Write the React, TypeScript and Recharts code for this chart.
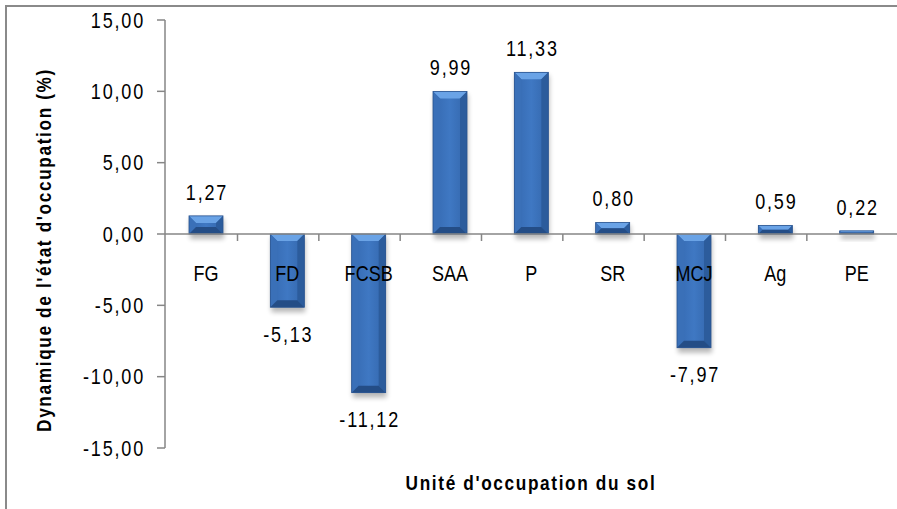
import { BarChart, Bar, XAxis, YAxis, ReferenceLine, LabelList } from "recharts";

// land-cover units and their change (%)
const categories = ["FG", "FD", "FCSB", "SAA", "P", "SR", "MCJ", "Ag", "PE"];
const values = [1.27, -5.13, -11.12, 9.99, 11.33, 0.8, -7.97, 0.59, 0.22];
const yTicks = [-15, -10, -5, 0, 5, 10, 15];

const data = categories.map((c, i) => ({ category: c, value: values[i] }));

const W = 897;
const H = 509;
const AXIS_W = 165;
const FONT = '"Liberation Sans", Arial, sans-serif';
const GRAY = "#868686";
const SX = 0.82; // squeeze Arial-like glyphs to a narrow look

const fmt = (v: number) => v.toFixed(2).replace(".", ",");

// label props may come flat or inside viewBox
function box(p: any) {
  const vb = p.viewBox && typeof p.viewBox.x === "number" ? p.viewBox : p;
  const x = Number(vb.x), y = Number(vb.y), w = Number(vb.width), h = Number(vb.height);
  return { x, w, top: Math.min(y, y + h), bottom: Math.max(y, y + h) };
}

// narrow text drawn at (x, y)
function NText({ x, y, anchor, spacing = 0, children }: any) {
  return (
    <text transform={`translate(${x},${y}) scale(${SX},1)`} x={0} y={0} textAnchor={anchor}
      dominantBaseline="central" fontSize={22} fontFamily={FONT} letterSpacing={spacing} fill="#000">
      {children}
    </text>
  );
}

function BevelBar(p: any) {
  const x = p.x, w = p.width;
  const y0 = Math.min(p.y, p.y + p.height);
  const y1 = Math.max(p.y, p.y + p.height);
  const h = y1 - y0;
  if (!(h > 0)) return null;
  const b = Math.min(7, h / 2, w / 2);
  const id = `bv-${p.index}`;
  return (
    <g>
      <defs>
        <filter id={`${id}-sh`} x="-50%" y="-50%" width="200%" height="200%">
          <feGaussianBlur stdDeviation="2.5" />
        </filter>
        <linearGradient id={`${id}-front`} x1="0" y1="0" x2="1" y2="0">
          <stop offset="0%" stopColor="#3569b0" />
          <stop offset="50%" stopColor="#3f78c3" />
          <stop offset="100%" stopColor="#3366ab" />
        </linearGradient>
      </defs>
      <rect x={x + 1} y={y0 + 3} width={w} height={h + 2} fill="#000" opacity={0.28} filter={`url(#${id}-sh)`} />
      <rect x={x} y={y0} width={w} height={h} fill={`url(#${id}-front)`} />
      <polygon points={`${x},${y0} ${x + w},${y0} ${x + w - b},${y0 + b} ${x + b},${y0 + b}`} fill="#6aa3e6" />
      <polygon points={`${x},${y0} ${x + b},${y0 + b} ${x + b},${y1 - b} ${x},${y1}`} fill="#3a70b8" />
      <polygon points={`${x + w},${y0} ${x + w - b},${y0 + b} ${x + w - b},${y1 - b} ${x + w},${y1}`} fill="#2c5c9c" />
      <polygon points={`${x},${y1} ${x + w},${y1} ${x + w - b},${y1 - b} ${x + b},${y1 - b}`} fill="#244d86" />
      <rect x={x} y={y0} width={w} height={h} fill="none" stroke="#2a5490" strokeWidth={0.8} />
    </g>
  );
}

function ValueLabel(p: any) {
  const { x, w, top, bottom } = box(p);
  const v = values[p.index];
  const cy = v >= 0 ? top - 24 : bottom + 27;
  return <NText x={x + w / 2 + 1} y={cy} anchor="middle" spacing={2.2}>{fmt(v)}</NText>;
}

function CategoryLabel(p: any) {
  const { x, w, top, bottom } = box(p);
  const v = values[p.index];
  const zeroY = v >= 0 ? bottom : top;
  const cx = x + w / 2;
  const pv = p.parentViewBox;
  const band = pv && pv.width ? pv.width / categories.length : (W - AXIS_W) / categories.length;
  return (
    <g>
      {p.index > 0 && (
        <line x1={cx - band / 2} x2={cx - band / 2} y1={zeroY} y2={zeroY + 7} stroke={GRAY} strokeWidth={1.5} />
      )}
      <NText x={cx} y={zeroY + 39} anchor="middle">{categories[p.index]}</NText>
    </g>
  );
}

function YTick(p: any) {
  return <NText x={p.x + 2} y={p.y} anchor="end" spacing={2.2}>{fmt(p.payload.value)}</NText>;
}

const titleStyle: React.CSSProperties = {
  position: "absolute",
  fontFamily: FONT,
  fontWeight: "bold",
  fontSize: 21,
  letterSpacing: 2,
  color: "#000",
  whiteSpace: "nowrap",
  lineHeight: "24px",
};

export default function App() {
  return (
    <div style={{ position: "absolute", left: 0, top: 0, width: W, height: H, background: "#fff", overflow: "hidden" }}>
      {/* outer frame, only top and left visible */}
      <div style={{ position: "absolute", left: 5, top: 5, width: W, height: H, borderTop: "2px solid #8a8a8a", borderLeft: "2px solid #8a8a8a" }} />
      <div style={{ position: "absolute", left: 0, top: 0 }}>
        <BarChart width={W} height={H} data={data} margin={{ top: 20, right: 0, bottom: 61, left: 0 }} barSize={34}>
          <XAxis dataKey="category" hide />
          <YAxis
            domain={[-15, 15]}
            ticks={yTicks}
            interval={0}
            width={AXIS_W}
            tickSize={8}
            tickMargin={14}
            axisLine={{ stroke: GRAY, strokeWidth: 1.5 }}
            tickLine={{ stroke: GRAY, strokeWidth: 1.5 }}
            tick={<YTick />}
          />
          <ReferenceLine y={0} stroke={GRAY} strokeWidth={1.5} />
          <Bar dataKey="value" shape={<BevelBar />} isAnimationActive={false}>
            <LabelList dataKey="value" content={<ValueLabel />} />
            <LabelList dataKey="category" content={<CategoryLabel />} />
          </Bar>
        </BarChart>
      </div>
      <div style={{ ...titleStyle, left: 531, top: 471, transform: `translateX(-50%) scaleX(${SX})` }}>
        Unité d'occupation du sol
      </div>
      <div style={{ ...titleStyle, left: 44, top: 250, transform: `translate(-50%, -50%) rotate(-90deg) scaleX(${SX})` }}>
        Dynamique de l'état d'occupation (%)
      </div>
    </div>
  );
}
